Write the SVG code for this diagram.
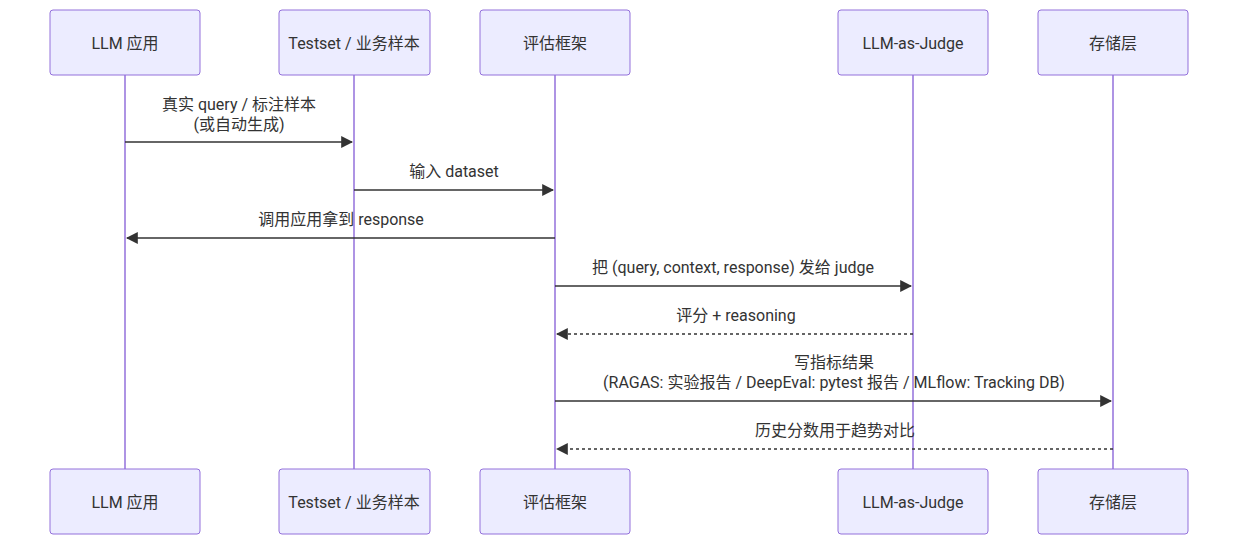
<svg xmlns="http://www.w3.org/2000/svg" width="1238" height="545" viewBox="0 0 1238 545">
<style>
.a rect{fill:#ECECFF;stroke:#9370DB;stroke-width:1}
text{font-family:Roboto,"Noto Sans CJK SC",sans-serif;font-size:16px;fill:#333;text-anchor:middle}
.a text{dominant-baseline:central}
.l{stroke:#9370DB;stroke-width:1.5}
.m{stroke:#333;stroke-width:1.5;fill:none}
.d{stroke-dasharray:3,3}
</style>
<defs><marker id="h" viewBox="0 0 10 10" refX="9" refY="5" markerWidth="8" markerHeight="8" orient="auto"><path d="M0,0L10,5L0,10z" fill="#333"/></marker></defs>
<g id="lifelines">
<line class="l" x1="125" y1="75" x2="125" y2="469"/>
<line class="l" x1="354" y1="75" x2="354" y2="469"/>
<line class="l" x1="555" y1="75" x2="555" y2="469"/>
<line class="l" x1="913" y1="75" x2="913" y2="469"/>
<line class="l" x1="1113" y1="75" x2="1113" y2="469"/>
</g>
<g id="a1" class="a"><rect x="50" y="10" width="150" height="65" rx="3"/><text x="125" y="43">LLM 应用</text><rect x="50" y="469" width="150" height="65" rx="3"/><text x="125" y="502">LLM 应用</text></g>
<g id="a2" class="a"><rect x="279" y="10" width="151" height="65" rx="3"/><text x="354" y="43">Testset / 业务样本</text><rect x="279" y="469" width="151" height="65" rx="3"/><text x="354" y="502">Testset / 业务样本</text></g>
<g id="a3" class="a"><rect x="480" y="10" width="150" height="65" rx="3"/><text x="555" y="43">评估框架</text><rect x="480" y="469" width="150" height="65" rx="3"/><text x="555" y="502">评估框架</text></g>
<g id="a4" class="a"><rect x="838" y="10" width="150" height="65" rx="3"/><text x="913" y="43">LLM-as-Judge</text><rect x="838" y="469" width="150" height="65" rx="3"/><text x="913" y="502">LLM-as-Judge</text></g>
<g id="a5" class="a"><rect x="1038" y="10" width="150" height="65" rx="3"/><text x="1113" y="43">存储层</text><rect x="1038" y="469" width="150" height="65" rx="3"/><text x="1113" y="502">存储层</text></g>
<g id="connectors">
<line class="m" x1="125" y1="142" x2="352" y2="142" marker-end="url(#h)"/>
<line class="m" x1="354" y1="190" x2="553" y2="190" marker-end="url(#h)"/>
<line class="m" x1="555" y1="238" x2="127" y2="238" marker-end="url(#h)"/>
<line class="m" x1="555" y1="286" x2="911" y2="286" marker-end="url(#h)"/>
<line class="m d" x1="913" y1="334" x2="557" y2="334" marker-end="url(#h)"/>
<line class="m" x1="555" y1="401" x2="1111" y2="401" marker-end="url(#h)"/>
<line class="m d" x1="1113" y1="449" x2="557" y2="449" marker-end="url(#h)"/>
<text x="239" y="110">真实 query / 标注样本</text>
<text x="239" y="130">(或自动生成)</text>
<text x="454" y="177">输入 dataset</text>
<text x="341" y="225">调用应用拿到 response</text>
<text x="733" y="273">把 (query, context, response) 发给 judge</text>
<text x="736" y="321">评分 + reasoning</text>
<text x="834" y="368">写指标结果</text>
<text x="834" y="388">(RAGAS: 实验报告 / DeepEval: pytest 报告 / MLflow: Tracking DB)</text>
<text x="835" y="436">历史分数用于趋势对比</text>
</g>
</svg>
